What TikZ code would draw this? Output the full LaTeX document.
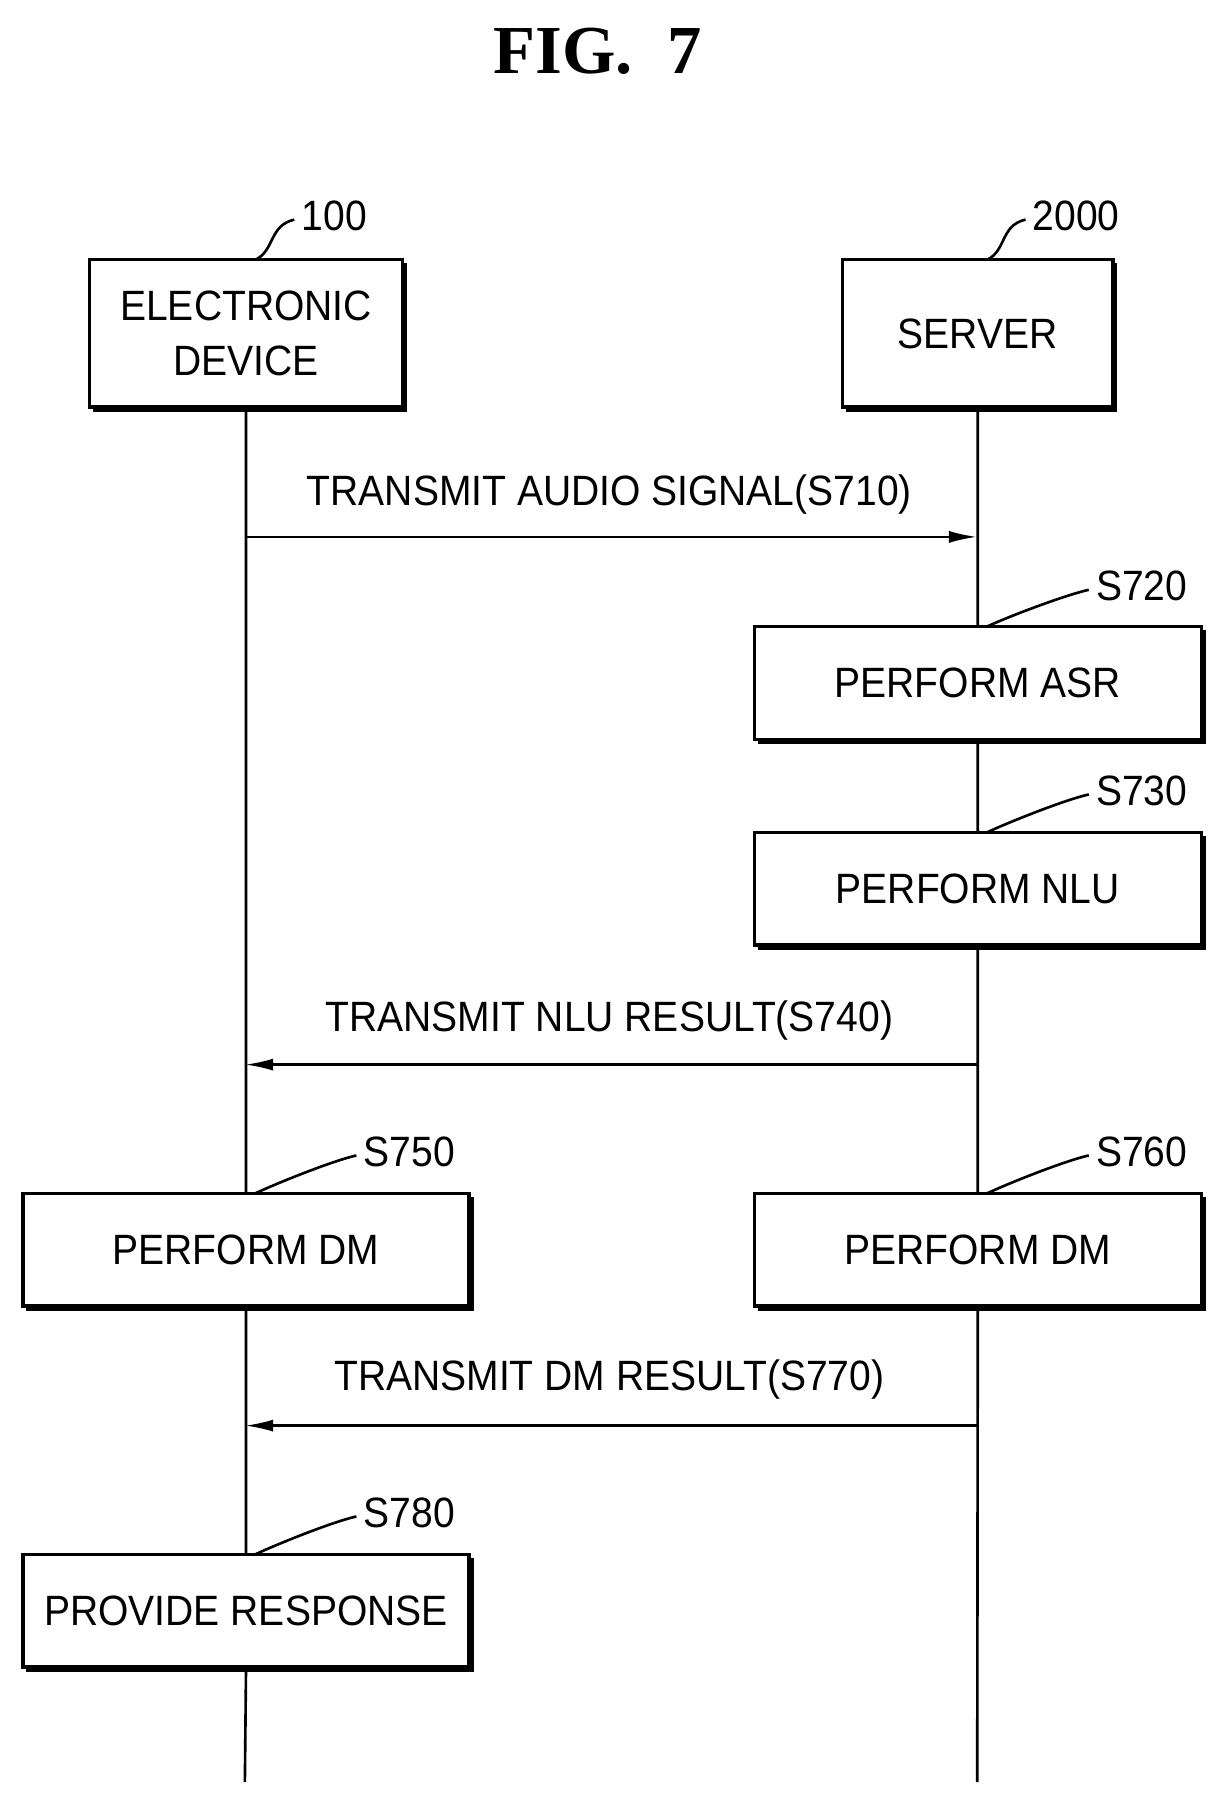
\documentclass[tikz,border=0pt]{standalone}
\usepackage{fontspec}
\setmainfont{Liberation Sans}[FakeStretch=0.92]
\newfontfamily\titlefont{Liberation Serif}
\usetikzlibrary{arrows.meta,calc}
\newcommand{\shbox}[5]{% name x1 y1 x2 y2
  \draw[box] (#2,#3) rectangle (#4,#5);
  \draw[line width=2.2pt] (#2+3,#5+2) -- (#4+2,#5+2) -- (#4+2,#3+3);
  \coordinate (#1) at ({(#2+#4)/2},{(#3+#5)/2});
  \coordinate (#1t) at ({(#2+#4)/2},#3);
  \coordinate (#1b) at ({(#2+#4)/2},#5);}
\newcommand{\refl}[4]{% name startcoord x,y text
  \node[lbl,anchor=west] (#1) at (#3) {#4};
  \draw[lead] ($(#2)+(8,0)$) .. controls ($(#2)+(25,-8)$) and ($(#3)+(-28,8)$) .. ($(#3)+(-6,3)$);}
\begin{document}
\begin{tikzpicture}[x=0.02cm,y=-0.02cm,
  lbl/.style={font=\fontsize{21}{25}\selectfont, inner sep=0pt},
  box/.style={draw, line width=1.6pt},
  life/.style={line width=1.3pt},
  msg/.style={line width=1.3pt,-{Latex[length=14pt,width=6pt]}},
  lead/.style={line width=1.3pt}]
\useasboundingbox (0,0) rectangle (1066,1570);
\node[font=\titlefont\bfseries\fontsize{34}{40}\selectfont] (title) at (520,45) {FIG.\ \ 7};
\shbox{ed}{78}{226}{350}{354}
\shbox{sv}{733}{226}{968}{354}
\shbox{asr}{656}{545}{1045}{643}
\shbox{nlu}{656}{724}{1045}{822}
\shbox{dml}{20}{1038}{408}{1136}
\shbox{dmr}{656}{1038}{1045}{1136}
\shbox{pr}{20}{1352}{408}{1450}
\node[lbl,align=center] (edl) at (ed) {ELECTRONIC\\[2pt]DEVICE};
\node[lbl] (svl) at (sv) {SERVER};
\node[lbl] (asrl) at (asr) {PERFORM ASR};
\node[lbl] (nlul) at (nlu) {PERFORM NLU};
\node[lbl] (dmll) at (dml) {PERFORM DM};
\node[lbl] (dmrl) at (dmr) {PERFORM DM};
\node[lbl] (prl) at (pr) {PROVIDE RESPONSE};
\coordinate (edend) at (213,1550);
\coordinate (svend) at (850,1550);
\draw[life] (edb) -- (dmlt) (dmlb) -- (prt) (prb) -- (edend);
\draw[life] (svb) -- (asrt) (asrb) -- (nlut) (nlub) -- (dmrt) (dmrb) -- (svend);
\coordinate (m1a) at (213,467); \coordinate (m1b) at (850,467);
\coordinate (m2a) at (850,926); \coordinate (m2b) at (213,926);
\coordinate (m3a) at (850,1240); \coordinate (m3b) at (213,1240);
\draw[msg] (m1a) -- (m1b);
\draw[msg] (m2a) -- (m2b);
\draw[msg] (m3a) -- (m3b);
\node[lbl] (t1) at (530,430) {TRANSMIT AUDIO SIGNAL(S710)};
\node[lbl] (t2) at (530,888) {TRANSMIT NLU RESULT(S740)};
\node[lbl] (t3) at (530,1200) {TRANSMIT DM RESULT(S770)};
\refl{r100}{edt}{262,188}{100}
\refl{r2000}{svt}{898,188}{2000}
\refl{r720}{asrt}{953,510}{S720}
\refl{r730}{nlut}{953,688}{S730}
\refl{r750}{dmlt}{316,1002}{S750}
\refl{r760}{dmrt}{953,1002}{S760}
\refl{r780}{prt}{316,1316}{S780}
\end{tikzpicture}
\end{document}
